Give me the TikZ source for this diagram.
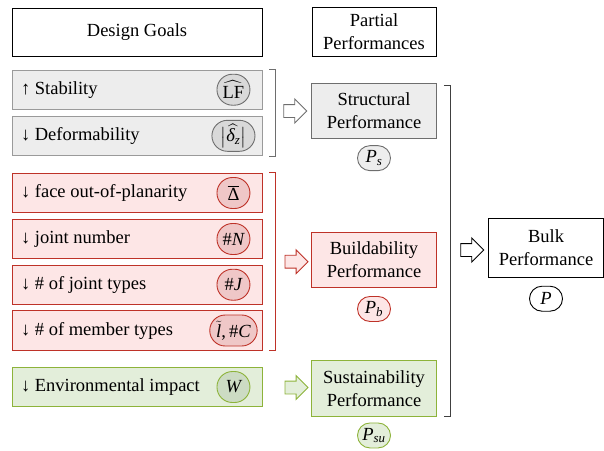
\documentclass[tikz,border=0pt]{standalone}
\usepackage{amsmath}
\usepackage{fontspec}
\setmainfont{Liberation Serif}
\usetikzlibrary{positioning,shapes.misc,shapes.arrows}

\definecolor{gbord}{HTML}{9A9A9A}
\definecolor{gfill}{HTML}{EDEDED}
\definecolor{gpill}{HTML}{D9D9D9}
\definecolor{gdark}{HTML}{6E6E6E}
\definecolor{rbord}{HTML}{BE3228}
\definecolor{rfill}{HTML}{FDE6E6}
\definecolor{rpill}{HTML}{EFC7C7}
\definecolor{vbord}{HTML}{8DB33A}
\definecolor{vfill}{HTML}{E3EEDA}
\definecolor{vpill}{HTML}{CCDBC3}

\newcommand{\vi}[1]{\text{\itshape #1}}

\begin{document}
\begin{tikzpicture}[x=1pt,y=-1pt,
        font=\fontsize{18.5}{23}\selectfont,
        line width=0.9pt,
        goal/.style={draw, rectangle, minimum width=250pt, minimum height=39.4pt},
        pill/.style={draw, rounded rectangle, minimum width=39pt, minimum height=31pt,
            inner xsep=3pt, inner ysep=1pt},
        part/.style={draw, rectangle, minimum width=125pt, minimum height=55.5pt, align=center},
        perf/.style={draw, rounded rectangle, minimum width=39pt, minimum height=25pt,
            inner xsep=3pt, inner ysep=1pt},
        fat/.style={draw, single arrow, minimum height=23pt, inner xsep=0pt, inner ysep=6pt,
            single arrow head extend=5.5pt, single arrow head indent=0pt}]
        \useasboundingbox (0,0) rectangle (604,450);

        % headers
        \node[draw, minimum width=250pt, minimum height=48pt] (goals) at (137,32) {Design Goals};
        \node[draw, minimum width=124pt, minimum height=49.5pt, align=center] (parts) at (374,32) {Partial\\Performances};

        % design goals
        \begin{scope}[every node/.style={goal}]
            \node[draw=gbord, fill=gfill] (stab) at (137,89.7) {};
            \node[draw=gbord, fill=gfill] (defo) at (137,135.8) {};
            \node[draw=rbord, fill=rfill] (plan) at (137,193) {};
            \node[draw=rbord, fill=rfill] (jnum) at (137,239) {};
            \node[draw=rbord, fill=rfill] (jtyp) at (137,284.7) {};
            \node[draw=rbord, fill=rfill] (mtyp) at (137,330.5) {};
            \node[draw=vbord, fill=vfill] (envi) at (137,387) {};
        \end{scope}

        \begin{scope}[every node/.style={anchor=west, inner sep=0pt}]
            \node (stabt) at ([xshift=9]stab.west) {↑ Stability};
            \node (defot) at ([xshift=9]defo.west) {↓ Deformability};
            \node (plant) at ([xshift=9]plan.west) {↓ face out-of-planarity};
            \node (jnumt) at ([xshift=9]jnum.west) {↓ joint number};
            \node (jtypt) at ([xshift=9]jtyp.west) {↓ \# of joint types};
            \node (mtypt) at ([xshift=9]mtyp.west) {↓ \# of member types};
            \node (envit) at ([xshift=9]envi.west) {↓ Environmental impact};
        \end{scope}

        \begin{scope}[every node/.style={pill}]
            \node[draw=gdark, fill=gpill] (lf) at ([xshift=-29]stab.east) {$\widehat{\text{LF}}$};
            \node[draw=gdark, fill=gpill] (dz) at ([xshift=-29]defo.east) {$\bigl|\widehat{\vi{δ}_{\vi{z}}}\bigr|$};
            \node[draw=rbord, fill=rpill] (dl) at ([xshift=-29]plan.east) {$\overline{\text{Δ}}$};
            \node[draw=rbord, fill=rpill] (nn) at ([xshift=-29]jnum.east) {\#\vi{N}};
            \node[draw=rbord, fill=rpill] (jj) at ([xshift=-29]jtyp.east) {\#\vi{J}};
            \node[draw=rbord, fill=rpill] (lc) at ([xshift=-29]mtyp.east) {$\tilde{\vi{l}}$,\,\#\vi{C}};
            \node[draw=vbord, fill=vpill] (ww) at ([xshift=-29]envi.east) {\vi{W}};
        \end{scope}

        % brackets
        \draw[gdark] ([xshift=7]stab.north east) -- ++(6,0) |- ([xshift=7]defo.south east);
        \draw[rbord] ([xshift=7]plan.north east) -- ++(6,0) |- ([xshift=7]mtyp.south east);

        % partial performances
        \node[part, draw=gdark, fill=gfill] (struc) at (374,111) {Structural\\Performance};
        \node[part, draw=rbord, fill=rfill] (build) at (374,259.8) {Buildability\\Performance};
        \node[part, draw=vbord, fill=vfill] (susta) at (374,388.3) {Sustainability\\Performance};

        \node[perf, draw=gdark, fill=gfill, below=6pt of struc] (ps) {$\vi{P}_{\vi{s}}$};
        \node[perf, draw=rbord, fill=rfill, below=8pt of build] (pb) {$\vi{P}_{\vi{b}}$};
        \node[perf, draw=vbord, fill=vfill, below=6pt of susta] (psu) {$\vi{P}_{\vi{su}}$};

        \node[fat, draw=gdark, fill=white] (a1) at (292,111) {};
        \node[fat, draw=rbord, fill=rfill] (a2) at (293.3,261.7) {};
        \node[fat, draw=vbord, fill=vfill] (a3) at (293.3,387.5) {};

        \draw[black!75] ([xshift=7,yshift=-3]struc.north east) -- ++(6,0) |- ([xshift=7]susta.south east);

        % bulk
        \node[fat, draw=black, fill=white] (a4) at (469,250) {};
        \node[draw, minimum width=115pt, minimum height=59pt, align=center] (bulk) at (546,247.8) {Bulk\\Performance};
        \node[perf, draw=black, fill=white, below=8pt of bulk] (pp) {\vi{P}};
\end{tikzpicture}
\end{document}
